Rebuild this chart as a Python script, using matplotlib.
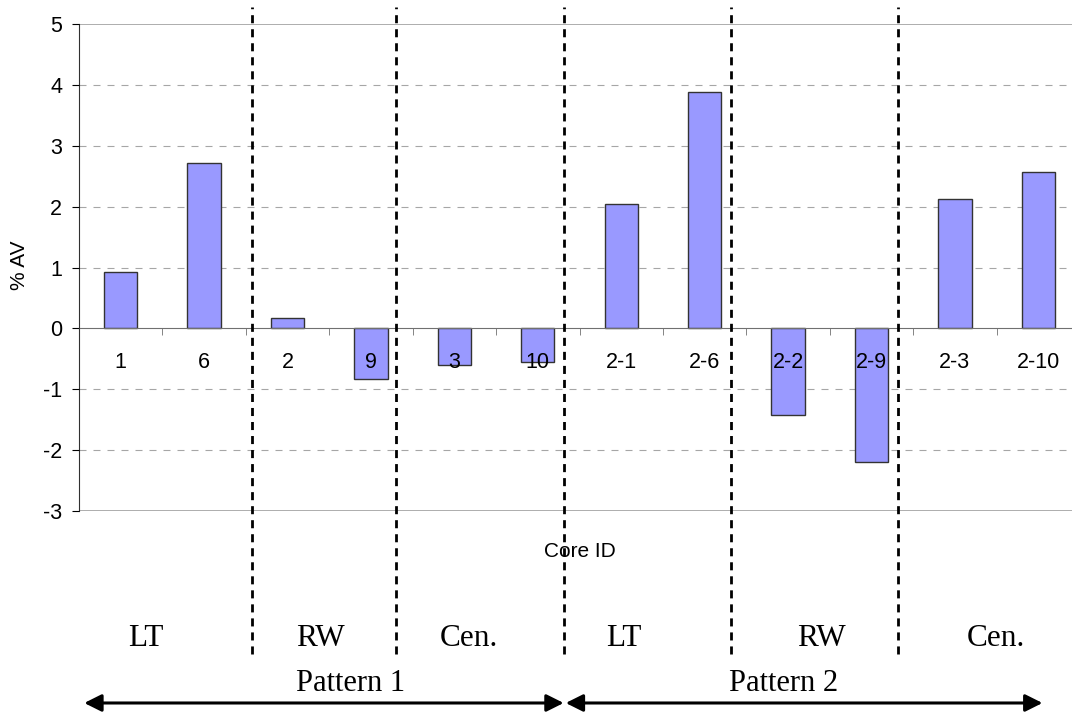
import matplotlib
matplotlib.use("Agg")
import matplotlib.pyplot as plt
from matplotlib.transforms import blended_transform_factory

plt.rcParams["font.family"] = ["Liberation Sans", "DejaVu Sans"]
plt.rcParams["axes.unicode_minus"] = False

core_ids = ["1", "6", "2", "9", "3", "10", "2-1", "2-6", "2-2", "2-9", "2-3", "2-10"]
pct_av = [0.93, 2.72, 0.17, -0.83, -0.60, -0.56, 2.04, 3.89, -1.42, -2.19, 2.12, 2.57]

# group separators / labels (x in category units)
sep_x = [1.575, 3.30, 5.31, 7.32, 9.32]
group_names = ["LT", "RW", "Cen.", "LT", "RW", "Cen."]
group_x = [0.305, 2.39, 4.17, 6.03, 8.40, 10.49]
pattern_names = ["Pattern 1", "Pattern 2"]
pattern_x = [2.76, 7.95]
pattern_span = [(-0.437, 5.31), (5.335, 11.05)]

fig = plt.figure(figsize=(10.72, 7.15), dpi=100)
ax = fig.add_axes([79 / 1072, 204 / 715, 1001 / 1072, 487 / 715])

x = list(range(len(core_ids)))
ax.bar(x, pct_av, width=0.40, color="#9999ff", edgecolor="#333333", linewidth=1.0, zorder=2)
ax.set_axisbelow(False)

ax.set_xlim(-0.5, len(core_ids) - 0.5)
ax.set_ylim(-3, 5)
ax.set_yticks(range(-3, 6))

# grid
for y in range(-2, 5):
    if y != 0:
        ax.axhline(y, color="#a6a6a6", lw=0.8, ls=(0, (6.3, 6.3)), zorder=1)
for y in (-3, 5):
    ax.axhline(y, color="#a0a0a0", lw=1.2, zorder=1)

for s in ("top", "right"):
    ax.spines[s].set_visible(False)
ax.spines["bottom"].set_position(("data", 0))
ax.spines["bottom"].set_color("#707070")
ax.spines["left"].set_color("#303030")

ax.set_xticks(x)
ax.set_xticklabels(core_ids)
ax.set_xticks([i + 0.5 for i in x[:-1]], minor=True)
ax.tick_params(axis="x", which="major", length=0, pad=17, labelsize=15.5)
ax.tick_params(axis="x", which="minor", length=5, direction="out", color="#707070")
ax.tick_params(axis="y", length=5, direction="out", pad=7, labelsize=15.5)

ax.text(0.5005, -0.084, "Core ID", transform=ax.transAxes, ha="center", va="center", fontsize=15)
ax.text(-0.059, 0.505, "% AV", transform=ax.transAxes, ha="center", va="center",
        rotation=90, fontsize=15)

tr = blended_transform_factory(ax.transData, fig.transFigure)
for sx in sep_x:
    ax.plot([sx, sx], [(715 - 654) / 715, (715 - 7) / 715], transform=tr,
            color="black", lw=2.0, ls=(0, (2.9, 2.15)), clip_on=False, zorder=5)

for name, gx in zip(group_names, group_x):
    ax.text(gx, 0.107, name, transform=tr, ha="center", va="center",
            fontsize=22.5, family="Liberation Serif")

for name, px, (a, b) in zip(pattern_names, pattern_x, pattern_span):
    ax.text(px, 0.0434, name, transform=tr, ha="center", va="center",
            fontsize=22, family="Liberation Serif")
    ax.annotate("", xy=(a, 0.0168), xytext=(b, 0.0168), xycoords=tr, textcoords=tr,
                arrowprops=dict(arrowstyle="<|-|>", mutation_scale=26, lw=2.2,
                                color="black", shrinkA=0, shrinkB=0))

fig.savefig("out.png", dpi=100)
